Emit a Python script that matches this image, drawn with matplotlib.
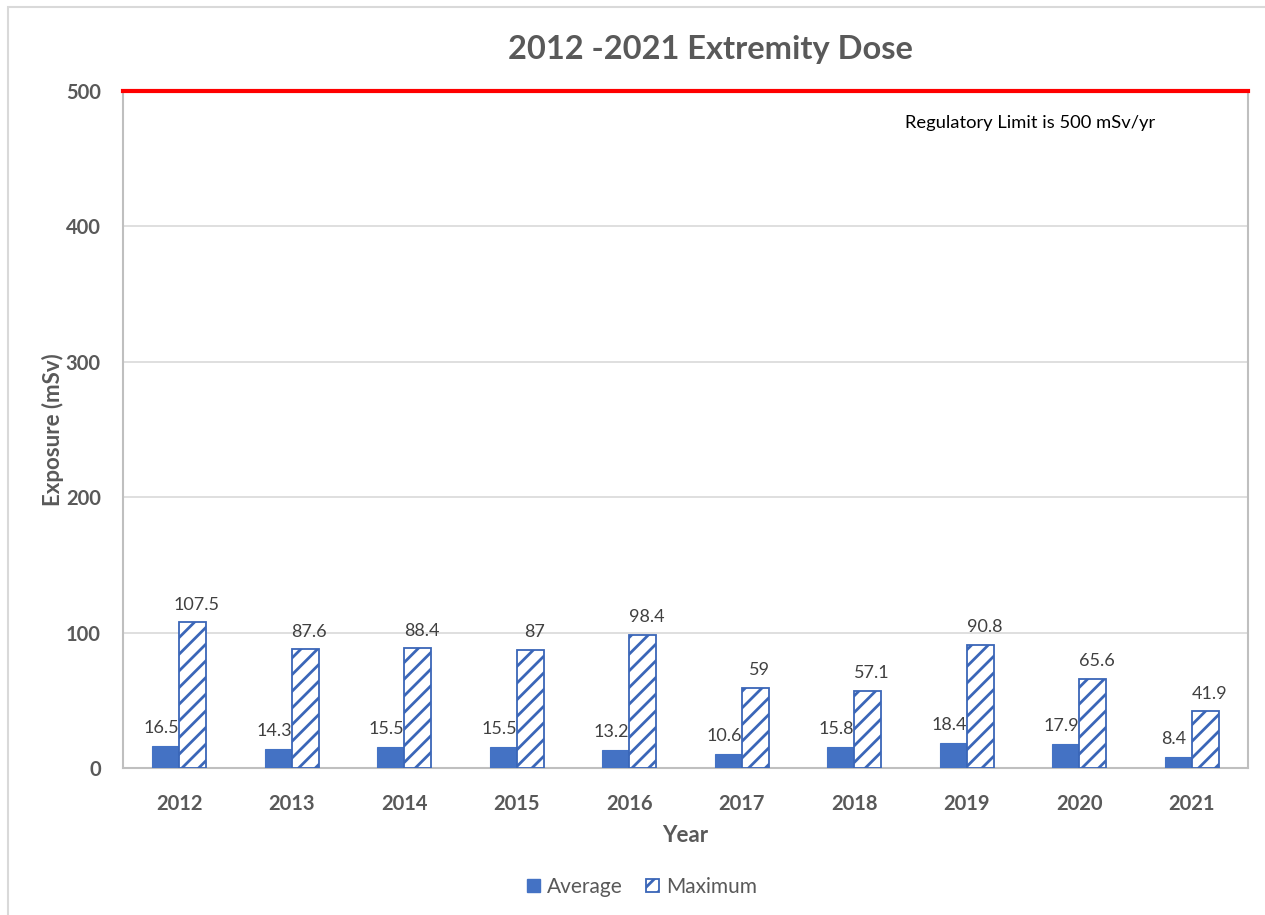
import numpy as np
import matplotlib.pyplot as plt
from matplotlib.patches import Rectangle, Patch

plt.rcParams['font.family'] = ['Lato', 'DejaVu Sans']
plt.rcParams['hatch.linewidth'] = 2.0

# Data
years = ['2012', '2013', '2014', '2015', '2016', '2017', '2018', '2019', '2020', '2021']
average = [16.5, 14.3, 15.5, 15.5, 13.2, 10.6, 15.8, 18.4, 17.9, 8.4]
maximum = [107.5, 87.6, 88.4, 87, 98.4, 59, 57.1, 90.8, 65.6, 41.9]
reg_limit = 500
y_ticks = [0, 100, 200, 300, 400, 500]

blue = '#4472C4'
edge_blue = '#3A66B8'
gray_txt = '#595959'

fig = plt.figure(figsize=(12.65, 9.15), dpi=100)
# chart area frame
fig.patches.append(Rectangle((8 / 1265, -0.05), 1.2, 1 - 7 / 915 + 0.05, transform=fig.transFigure,
                             fill=False, edgecolor='#D9D9D9', lw=1.5))
ax = fig.add_axes([123 / 1265, 1 - 768 / 915, 1125 / 1265, 677 / 915])

x = np.arange(len(years))
w = 0.24
b1 = ax.bar(x - w / 2, average, w, color=blue, edgecolor=blue, lw=0.8, zorder=3)
b2 = ax.bar(x + w / 2, maximum, w, color='white', edgecolor=edge_blue, hatch='//', lw=1.3, zorder=3)

def fmt(v):
    return f'{v:g}'

for rect, v in zip(b1, average):
    ax.annotate(fmt(v), (rect.get_x() + rect.get_width() / 2, v), xytext=(-3, 7),
                textcoords='offset points', ha='center', va='bottom', fontsize=13, color='#404040')
for rect, v in zip(b2, maximum):
    ax.annotate(fmt(v), (rect.get_x() + rect.get_width() / 2, v), xytext=(3, 7),
                textcoords='offset points', ha='center', va='bottom', fontsize=13, color='#404040')

ax.axhline(reg_limit, color='#FF0000', lw=3, zorder=4, clip_on=False)
ax.text(7.56, 476, 'Regulatory Limit is 500 mSv/yr', ha='center', va='center', fontsize=13.2, color='black')

ax.set_xlim(-0.5, len(years) - 0.5)
ax.set_ylim(0, 500)
ax.set_yticks(y_ticks)
ax.set_xticks(x)
ax.set_xticklabels(years)
ax.tick_params(axis='both', length=0, labelsize=14.5, colors=gray_txt)
ax.tick_params(axis='y', pad=16)
ax.tick_params(axis='x', pad=19)
for lab in ax.get_xticklabels() + ax.get_yticklabels():
    lab.set_fontweight('bold')
ax.yaxis.grid(True, color='#D9D9D9', lw=1.2, zorder=0)
ax.set_axisbelow(True)
for s in ['left', 'bottom', 'right']:
    ax.spines[s].set_color('#BFBFBF')
    ax.spines[s].set_linewidth(1.5)
ax.spines['top'].set_visible(False)

ax.set_xlabel('Year', fontsize=16, fontweight='bold', color=gray_txt, labelpad=8)
ax.set_ylabel('Exposure (mSv)', fontsize=16, fontweight='bold', color=gray_txt, labelpad=1)

fig.text(710 / 1265, 1 - 50 / 915, '2012 -2021 Extremity Dose', ha='center', va='center',
         fontsize=23.5, fontweight='bold', color=gray_txt)

handles = [Patch(facecolor=blue, edgecolor=blue),
           Patch(facecolor='white', edgecolor=edge_blue, hatch='//', lw=1.3)]
fig.legend(handles, ['Average', 'Maximum'], loc='center', bbox_to_anchor=(642 / 1265, 1 - 887 / 915),
           ncol=2, frameon=False, fontsize=15, labelcolor=gray_txt, handlelength=0.62,
           handleheight=0.62, handletextpad=0.35, columnspacing=1.1)

fig.savefig('out.png', dpi=100)
